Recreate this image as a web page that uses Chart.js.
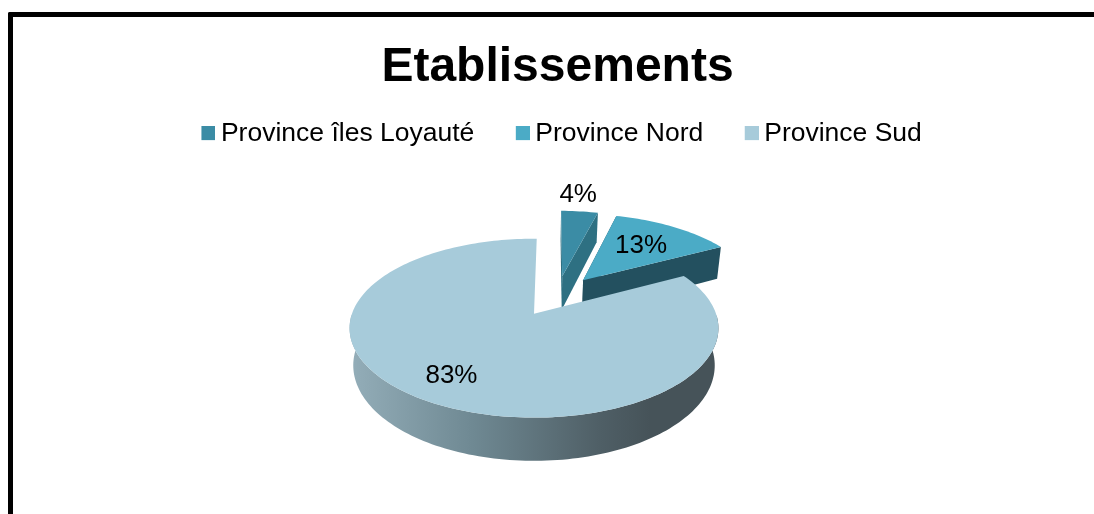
<!DOCTYPE html>
<html>
<head>
<meta charset="utf-8">
<title>Etablissements</title>
<script src="https://cdn.jsdelivr.net/npm/chart.js@4/dist/chart.umd.min.js"></script>
<style>
  html, body { margin: 0; height: 100%; background: #fff; overflow: hidden; }
  #frame {
    position: absolute; left: 8px; top: 12px; width: 1086px; height: 502px;
    box-sizing: border-box; border-left: 5px solid #000; border-top: 5px solid #000; border-top-left-radius: 2px;
  }
  canvas { display: block; }
</style>
</head>
<body>
<div id="frame"><canvas id="pie" width="1081" height="497"></canvas></div>
<script>
const categories = ['Province îles Loyauté', 'Province Nord', 'Province Sud'];
const shares = [4, 13, 83];

const topColors = ['#3b8ca5', '#4babc6', '#a7cbda'];
const sideColors = ['#2e7082', '#23505f', null];
const labelRadius = [1.3, 0.615, 0.755];
const labelTurn = [-1.8, 0, 1];

// view of the tilted pie
const perspective = -0.162;
const flatten = 0.4786;
const thickness = 0.199;
const explosion = 0.25;
const fontName = '"Liberation Sans", Arial, sans-serif';

// the extra transparent rows nudge the square, chart.js centres the image
function legendSwatch(color) {
  const c = document.createElement('canvas');
  c.width = 16;
  c.height = 16;
  const g = c.getContext('2d');
  g.fillStyle = color;
  g.fillRect(2, 0, 14, 14);
  return c;
}

// unit disc (u, v) at height h -> screen
function project(arc, u, v, h) {
  const w = 1 + perspective * v;
  return {
    x: arc.x + arc.outerRadius * u * (1 - 0.02 * h) / w,
    y: arc.y + arc.outerRadius * (flatten * v + thickness * h) / w
  };
}

function midAngle(arc) {
  return (arc.startAngle + arc.endAngle) / 2;
}

// every slice moves out along its middle, the big one stays at the centre
function sliceShift(arcs, i) {
  const a = midAngle(arcs[i]);
  const b = midAngle(arcs[arcs.length - 1]);
  return { u: explosion * (Math.cos(a) - Math.cos(b)), v: explosion * (Math.sin(a) - Math.sin(b)) };
}

function tracePoly(ctx, pts) {
  ctx.beginPath();
  pts.forEach((p, i) => (i ? ctx.lineTo(p.x, p.y) : ctx.moveTo(p.x, p.y)));
  ctx.closePath();
}

const pie3d = {
  id: 'pie3d',
  afterLayout(chart) {
    chart.titleBlock.left += 23.5;
    chart.titleBlock.right += 23.5;
    chart.titleBlock.top += 4;
    chart.titleBlock.bottom += 4;
    chart.legend.left += 30.5;
    chart.legend.right += 30.5;
    chart.legend.top -= 19;
    chart.legend.bottom -= 19;
  },
  beforeDatasetDraw(chart) {
    const ctx = chart.ctx;
    const arcs = chart.getDatasetMeta(0).data;
    arcs.forEach((arc, i) => {
      const shift = sliceShift(arcs, i);
      const steps = Math.max(4, Math.round((arc.endAngle - arc.startAngle) * 40));
      const angles = [];
      for (let s = 0; s <= steps; s++) {
        angles.push(arc.startAngle + (arc.endAngle - arc.startAngle) * s / steps);
      }
      const rim = (list, h) => list.map(t => project(arc, shift.u + Math.cos(t), shift.v + Math.sin(t), h));
      const apexTop = project(arc, shift.u, shift.v, 0);
      const apexLow = project(arc, shift.u, shift.v, 1);
      const upper = rim(angles, 0);
      const lower = rim(angles, 1);

      // the big slice only shows its round wall
      if (sideColors[i]) {
        ctx.fillStyle = sideColors[i];
        tracePoly(ctx, [apexTop, upper[0], lower[0], apexLow]);
        ctx.fill();
        tracePoly(ctx, [apexTop, upper[steps], lower[steps], apexLow]);
        ctx.fill();
      } else {
        const wall = ctx.createLinearGradient(arc.x - arc.outerRadius, 0, arc.x + arc.outerRadius, 0);
        wall.addColorStop(0, '#93adb8');
        wall.addColorStop(0.33, '#6f8993');
        wall.addColorStop(0.68, '#4f5f66');
        wall.addColorStop(0.82, '#465359');
        wall.addColorStop(1, '#465359');
        ctx.fillStyle = wall;
      }
      // round wall, front half of the rim only
      const front = angles.filter(t => Math.sin(t) >= 0);
      if (front.length > 1) {
        tracePoly(ctx, rim(front, 0).concat(rim(front, 1).reverse()));
        ctx.fill();
      }

      ctx.fillStyle = topColors[i];
      tracePoly(ctx, [apexTop].concat(upper));
      ctx.fill();
    });
    return false;
  },
  afterDatasetsDraw(chart) {
    const ctx = chart.ctx;
    const arcs = chart.getDatasetMeta(0).data;
    ctx.save();
    ctx.font = '26px ' + fontName;
    ctx.fillStyle = '#000';
    ctx.textAlign = 'center';
    ctx.textBaseline = 'middle';
    arcs.forEach((arc, i) => {
      const shift = sliceShift(arcs, i);
      const mid = midAngle(arc) + labelTurn[i] * Math.PI / 180;
      const p = project(arc, shift.u + Math.cos(mid) * labelRadius[i], shift.v + Math.sin(mid) * labelRadius[i], 0);
      ctx.fillText(shares[i] + '%', p.x, p.y);
    });
    ctx.restore();
  }
};

new Chart(document.getElementById('pie'), {
  type: 'pie',
  data: {
    labels: categories,
    datasets: [{ data: shares, backgroundColor: topColors, borderWidth: 0 }]
  },
  options: {
    responsive: false,
    animation: false,
    radius: 182,
    rotation: 1,
    layout: { padding: { right: 39, bottom: 63 } },
    plugins: {
      title: {
        display: true,
        text: 'Etablissements',
        color: '#000',
        padding: { top: 18, bottom: 0 },
        font: { family: fontName, size: 48, weight: 'bold', lineHeight: 1.2 }
      },
      legend: {
        position: 'top',
        labels: {
          color: '#000',
          font: { family: fontName, size: 26.5 },
          usePointStyle: true,
          pointStyleWidth: 0.5,
          boxHeight: 14,
          padding: 47.25,
          generateLabels: () => categories.map((text, i) => ({
            text,
            fontColor: '#000',
            pointStyle: legendSwatch(topColors[i]),
            datasetIndex: 0,
            index: i
          }))
        }
      },
      tooltip: { enabled: false }
    }
  },
  plugins: [pie3d]
});
</script>
</body>
</html>
